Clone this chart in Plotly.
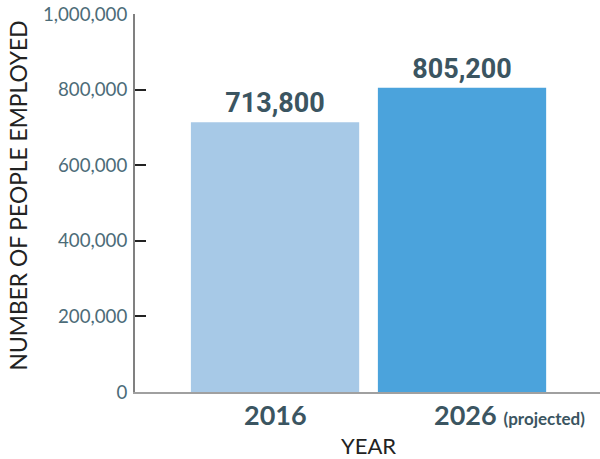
import plotly.graph_objects as go

categories = ["2016", "2026"]
values = [713800, 805200]
value_labels = ["713,800", "805,200"]
bar_colors = ["#A7C9E7", "#4BA3DC"]
tick_texts = ["<b>2016</b>", "<b>2026</b> <b style='font-size:17px'>(projected)</b>"]
y_tickvals = [0, 200000, 400000, 600000, 800000, 1000000]
y_ticktext = ["0", "200,000", "400,000", "600,000", "800,000", "1,000,000"]

dark = "#3B5561"
tickcol = "#4C6C78"

fig = go.Figure()
fig.add_trace(go.Bar(
    x=[0, 1], y=values,
    marker=dict(color=bar_colors, line=dict(width=0)),
    width=0.9,
    text=["<b>%s</b>" % t for t in value_labels],
    textposition="outside",
    textfont=dict(family="Roboto", size=27, color=dark),
    cliponaxis=False,
    hoverinfo="skip",
))

annotations = []
annotations.append(dict(x=0, y=0, xref="x", yref="paper", text=tick_texts[0],
                        showarrow=False, xanchor="center", yanchor="top", yshift=-4,
                        font=dict(family="Lato", size=27, color=dark)))
annotations.append(dict(x=1, y=0, xref="x", yref="paper", text=tick_texts[1],
                        showarrow=False, xanchor="left", yanchor="top", yshift=-4, xshift=-30,
                        font=dict(family="Lato", size=27, color=dark)))
annotations.append(dict(x=0.5, y=0, xref="x", yref="paper", text="YEAR",
                        showarrow=False, xanchor="center", yanchor="middle", yshift=-53,
                        font=dict(family="Lato", size=22, color="#222222")))
annotations.append(dict(x=0, y=0.52, xref="paper", yref="paper", text="NUMBER OF PEOPLE EMPLOYED",
                        showarrow=False, xanchor="center", yanchor="middle", xshift=-117,
                        textangle=-90,
                        font=dict(family="Lato", size=22.8, color="#222222")))

fig.update_layout(
    width=600, height=459,
    margin=dict(l=135, r=0, t=14, b=67),
    plot_bgcolor="white", paper_bgcolor="white",
    showlegend=False,
    bargap=0.1,
    annotations=annotations,
    xaxis=dict(range=[-0.749, 1.738], showticklabels=False, ticks="",
               showline=True, linecolor="#A0A0A0", linewidth=1.5,
               showgrid=False, zeroline=False, fixedrange=True),
    yaxis=dict(range=[0, 1000000], tickvals=y_tickvals, ticktext=y_ticktext,
               ticks="inside", ticklen=11, tickwidth=1.5, tickcolor="#222222",
               showline=True, linecolor="#808080", linewidth=2,
               showgrid=False, zeroline=False,
               tickfont=dict(family="Lato", size=18.7, color=tickcol),
               ticklabelstandoff=2, fixedrange=True),
)

fig.write_html("out.html")
